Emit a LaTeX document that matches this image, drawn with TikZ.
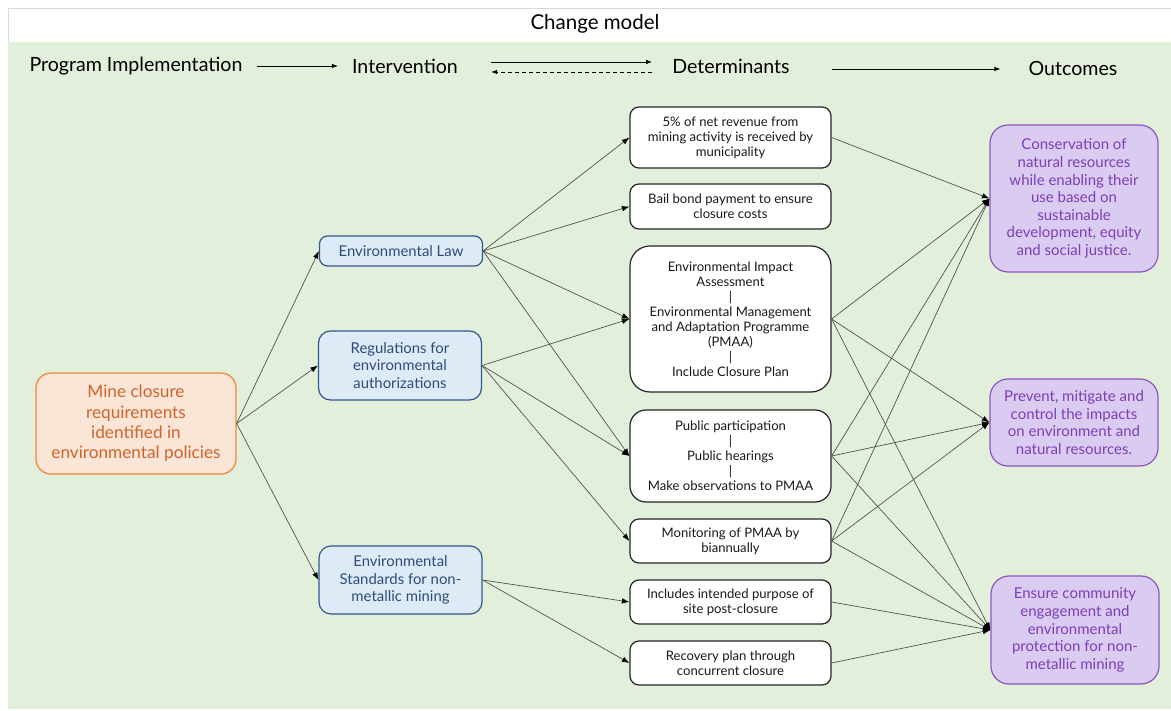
\documentclass[tikz,border=0pt]{standalone}
\usepackage{fontspec}
\setmainfont{Lato}
\usetikzlibrary{arrows.meta,calc}
\definecolor{bggreen}{HTML}{E2EFDA}
\definecolor{hdrgray}{HTML}{D9D9D9}
\definecolor{srcfill}{HTML}{FBE5D6}
\definecolor{srcdraw}{HTML}{F08A3E}
\definecolor{srctext}{HTML}{D0632A}
\definecolor{intfill}{HTML}{DDEBF7}
\definecolor{intdraw}{HTML}{34558F}
\definecolor{inttext}{HTML}{2F4B7C}
\definecolor{outfill}{HTML}{D9CCF0}
\definecolor{outdraw}{HTML}{8F55C0}
\definecolor{outtext}{HTML}{7F3DB8}
\definecolor{connc}{HTML}{4A4A4A}
\begin{document}
\begin{tikzpicture}[x=1pt,y=-1pt,
  hdr/.style={font=\fontsize{19.6}{23}\selectfont, text=black, inner sep=0pt},
  srcbox/.style={draw=srcdraw, fill=srcfill, text=srctext, line width=1.3pt, rounded corners=15pt,
    minimum width=200pt, minimum height=101pt, align=center, inner sep=0pt,
    font=\fontsize{17.2}{20.3}\selectfont},
  intbox/.style={draw=intdraw, fill=intfill, text=inttext, line width=1.2pt, rounded corners=8pt,
    minimum width=163pt, align=center, inner sep=0pt,
    font=\fontsize{14.9}{17.5}\selectfont},
  detbox/.style={draw=black!85, fill=white, text=black!90, line width=1.2pt, rounded corners=9pt,
    minimum width=201pt, align=center, inner sep=0pt,
    font=\fontsize{13.1}{15}\selectfont},
  outbox/.style={draw=outdraw, fill=outfill, text=outtext, line width=1.2pt, rounded corners=18pt,
    minimum width=168pt, align=center, inner sep=0pt,
    font=\fontsize{15}{17.6}\selectfont},
  conn/.style={draw=connc, line width=0.65pt, -{Latex[length=7.5pt,width=5.5pt,color=black]}},
  harrow/.style={draw=black, line width=0.9pt, -{Latex[length=6pt,width=4.5pt]}}
]
\useasboundingbox (0,0) rectangle (1171,711);
\fill[white] (0,0) rectangle (1171,711);
% frame
\draw[hdrgray, line width=0.8pt, fill=white] (8,8) rectangle (1171,42);
\fill[bggreen] (8,42) rectangle (1171,709);
\node[hdr, font=\fontsize{20.5}{24}\selectfont] (title) at (595,24) {Change model};

% header row
\node[hdr] (prog) at (136,66) {Program Implementation};
\node[hdr] (interv) at (405,66) {Intervention};
\node[hdr] (det) at (731,66) {Determinants};
\node[hdr] (outc) at (1073,68) {Outcomes};
\draw[harrow] ($(prog.east)+(14,0)$) coordinate (pa) -- ($(interv.west)+(-14,0)$) coordinate (pb);
\coordinate (ia) at ($(interv.east)+(33,-4)$);
\coordinate (da) at ($(det.west)+(-20,-4)$);
\coordinate (ib) at ($(interv.east)+(33,6)$);
\coordinate (db) at ($(det.west)+(-20,6)$);
\draw[harrow] (ia) -- (da);
\draw[harrow, dashed, dash pattern=on 4pt off 3pt] (db) -- (ib);
\draw[harrow] ($(det.east)+(42,3)$) coordinate (dc) -- ($(outc.west)+(-28,1)$) coordinate (od);

% nodes
\node[srcbox] (src) at (136,423.5) {Mine closure\\requirements\\identified in\\environmental policies};

\node[intbox, minimum height=30pt] (el) at (401,251) {Environmental Law};
\node[intbox, minimum height=69pt, rounded corners=12pt] (reg) at (400,365.5) {Regulations for\\environmental\\authorizations};
\node[intbox, minimum height=68pt, rounded corners=12pt] (std) at (400.5,580) {Environmental\\Standards for non-\\metallic mining};

\node[detbox, minimum height=61pt] (d1) at (730.5,137.5) {5\% of net revenue from\\mining activity is received by\\municipality};
\node[detbox, minimum height=45pt] (d2) at (730.5,206.5) {Bail bond payment to ensure\\closure costs};
\node[detbox, minimum height=146pt, rounded corners=20pt] (d3) at (730.5,319) {Environmental Impact\\Assessment\\|\\Environmental Management\\and Adaptation Programme\\(PMAA)\\|\\Include Closure Plan};
\node[detbox, minimum height=92pt, rounded corners=16pt] (d4) at (730.5,456) {Public participation\\|\\Public hearings\\|\\Make observations to PMAA};
\node[detbox, minimum height=44pt] (d5) at (730.5,541) {Monitoring of PMAA by\\biannually};
\node[detbox, minimum height=44pt] (d6) at (730.5,602) {Includes intended purpose of\\site post-closure};
\node[detbox, minimum height=44pt] (d7) at (730.5,663) {Recovery plan through\\concurrent closure};

\node[outbox, minimum height=147pt] (o1) at (1074,198.5) {Conservation of\\natural resources\\while enabling their\\use based on\\sustainable\\development, equity\\and social justice.};
\node[outbox, minimum height=87pt] (o2) at (1074,422.5) {Prevent, mitigate and\\control the impacts\\on environment and\\natural resources.};
\node[outbox, minimum height=108pt] (o3) at (1075,630) {Ensure community\\engagement and\\environmental\\protection for non-\\metallic mining};

% connectors
\foreach \t in {el,reg,std} \draw[conn] (src.east) -- (\t.west);
\foreach \t in {d1,d2,d3,d4} \draw[conn] (el.east) -- (\t.west);
\foreach \t in {d3,d4,d5} \draw[conn] (reg.east) -- (\t.west);
\foreach \t in {d6,d7} \draw[conn] (std.east) -- (\t.west);

\draw[conn] (d1.east) -- (o1.west);
\foreach \s in {d3,d4,d5} {
  \draw[conn] (\s.east) -- (o1.west);
  \draw[conn] (\s.east) -- (o2.west);
  \draw[conn] (\s.east) -- (o3.west);
}
\draw[conn] (d6.east) -- (o3.west);
\draw[conn] (d7.east) -- (o3.west);
\end{tikzpicture}
\end{document}
